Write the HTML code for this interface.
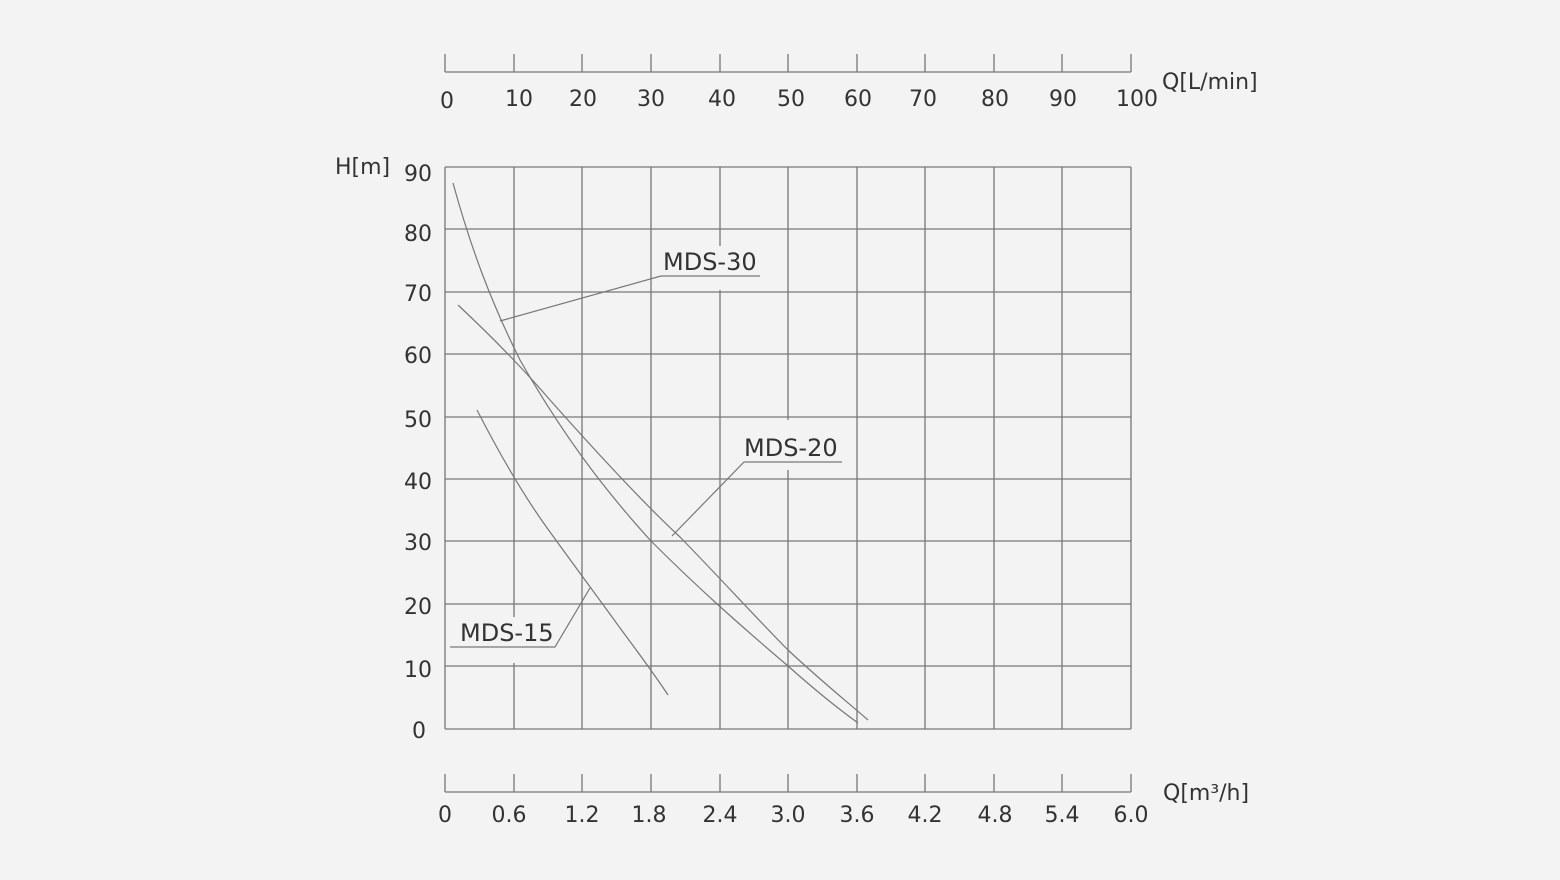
<!DOCTYPE html>
<html><head><style>
html,body{margin:0;padding:0;background:#f3f3f3;}
svg{display:block;}
text{font-family:"DejaVu Sans","Liberation Sans",sans-serif;fill:#333;font-size:22px;}
.lb{font-size:24px;}
</style></head><body>
<svg width="1560" height="880" viewBox="0 0 1560 880" xmlns="http://www.w3.org/2000/svg">
<rect width="1560" height="880" fill="#f3f3f3"/>
<g stroke="#777" stroke-width="1.3" fill="none">
<line x1="445" y1="167" x2="445" y2="729"/>
<line x1="514" y1="167" x2="514" y2="729"/>
<line x1="582" y1="167" x2="582" y2="729"/>
<line x1="651" y1="167" x2="651" y2="729"/>
<line x1="720" y1="167" x2="720" y2="729"/>
<line x1="788" y1="167" x2="788" y2="729"/>
<line x1="857" y1="167" x2="857" y2="729"/>
<line x1="925" y1="167" x2="925" y2="729"/>
<line x1="994" y1="167" x2="994" y2="729"/>
<line x1="1062" y1="167" x2="1062" y2="729"/>
<line x1="1131" y1="167" x2="1131" y2="729"/>
</g>
<rect x="662" y="246" width="98" height="44" fill="#f3f3f3"/>
<rect x="743" y="420" width="99" height="50" fill="#f3f3f3"/>
<rect x="455" y="617" width="100" height="46" fill="#f3f3f3"/>
<g stroke="#777" stroke-width="1.3" fill="none">
<line x1="445" y1="167" x2="1131" y2="167"/>
<line x1="445" y1="229" x2="1131" y2="229"/>
<line x1="445" y1="292" x2="1131" y2="292"/>
<line x1="445" y1="354" x2="1131" y2="354"/>
<line x1="445" y1="417" x2="1131" y2="417"/>
<line x1="445" y1="479" x2="1131" y2="479"/>
<line x1="445" y1="541" x2="1131" y2="541"/>
<line x1="445" y1="604" x2="1131" y2="604"/>
<line x1="445" y1="666" x2="1131" y2="666"/>
<line x1="445" y1="729" x2="1131" y2="729"/>
<line x1="445" y1="72" x2="1131" y2="72"/>
<path d="M445 54V72M514 54V72M582 54V72M651 54V72M720 54V72M788 54V72M857 54V72M925 54V72M994 54V72M1062 54V72M1131 54V72"/>
<line x1="445" y1="792" x2="1131" y2="792"/>
<path d="M445 774V792M514 774V792M582 774V792M651 774V792M720 774V792M788 774V792M857 774V792M925 774V792M994 774V792M1062 774V792M1131 774V792"/>
</g>
<g stroke="#777" stroke-width="1.2" fill="none">
<path d="M453 183 C470 245,490 300,520 360 C560 430,600 485,651 541 C700 590,740 625,788 666 C815 690,840 710,858 723"/>
<path d="M458 305 C490 335,520 365,550 400 C590 445,640 500,680 537 C720 578,760 622,788 650 C820 680,845 700,868 720"/>
<path d="M477 410 C495 445,520 490,545 525 C570 560,600 600,620 628 C640 655,655 675,668 695"/>
<polyline points="500,321 661,276 760,276"/>
<polyline points="672,536 744,462 842,462"/>
<polyline points="590,588 555,647 450,647"/>
</g>
<text class="lb" x="663" y="270">MDS-30</text>
<text class="lb" x="744" y="456">MDS-20</text>
<text class="lb" x="460" y="641">MDS-15</text>
<g text-anchor="middle">
<text x="447" y="108">0</text><text x="519" y="106">10</text><text x="583" y="106">20</text><text x="651" y="106">30</text><text x="722" y="106">40</text><text x="791" y="106">50</text><text x="858" y="106">60</text><text x="923" y="106">70</text><text x="995" y="106">80</text><text x="1063" y="106">90</text><text x="1137" y="106">100</text>
<text x="445" y="822">0</text><text x="509" y="822">0.6</text><text x="582" y="822">1.2</text><text x="649" y="822">1.8</text><text x="720" y="822">2.4</text><text x="788" y="822">3.0</text><text x="857" y="822">3.6</text><text x="925" y="822">4.2</text><text x="995" y="822">4.8</text><text x="1062" y="822">5.4</text><text x="1131" y="822">6.0</text>
</g>
<g text-anchor="end">
<text x="432" y="181">90</text><text x="432" y="241">80</text><text x="432" y="301">70</text><text x="432" y="363">60</text><text x="432" y="427">50</text><text x="432" y="489">40</text><text x="432" y="550">30</text><text x="432" y="614">20</text><text x="432" y="677">10</text><text x="426" y="738">0</text>
</g>
<text x="335" y="174">H[m]</text>
<text x="1162" y="89">Q[L/min]</text>
<text x="1163" y="800">Q[m³/h]</text>
</svg>
</body></html>
